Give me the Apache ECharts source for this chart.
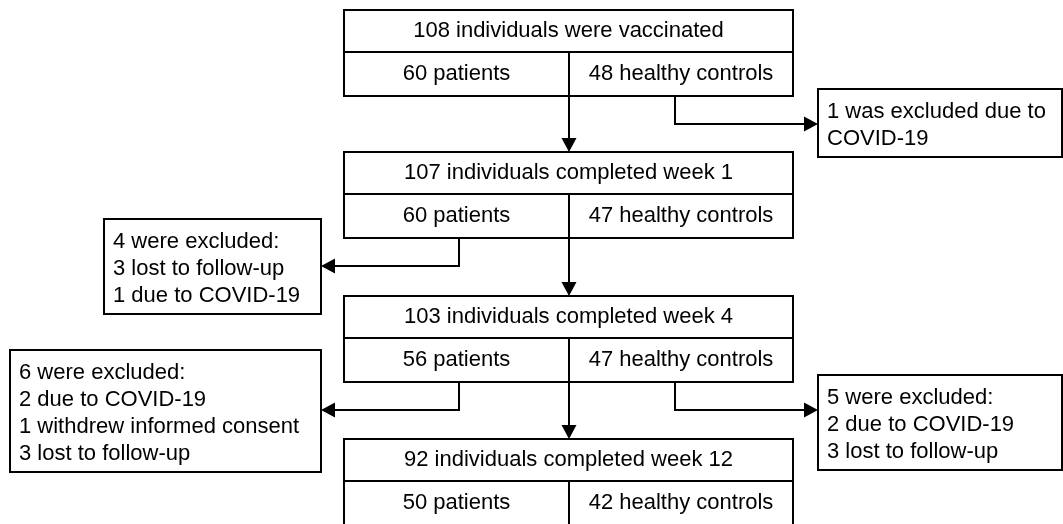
<!DOCTYPE html>
<html>
<head>
<meta charset="utf-8">
<script src="https://cdn.jsdelivr.net/npm/echarts@6/dist/echarts.min.js"></script>
<style>
  html, body { margin: 0; padding: 0; background: #fff; }
  #chart { width: 1063px; height: 524px; }
</style>
</head>
<body>
<div id="chart"></div>
<script>
// --- data ---
var stageTitles = [
  '108 individuals were vaccinated',
  '107 individuals completed week 1',
  '103 individuals completed week 4',
  '92 individuals completed week 12'
];
var patientCounts = [60, 60, 56, 50];
var controlCounts = [48, 47, 47, 42];

// exclusions: after which stage, from which group, text lines
var exclStage = [0, 1, 2, 2];
var exclGroup = ['controls', 'patients', 'patients', 'controls'];
var exclLines = [
  ['1 was excluded due to', 'COVID-19'],
  ['4 were excluded:', '3 lost to follow-up', '1 due to COVID-19'],
  ['6 were excluded:', '2 due to COVID-19', '1 withdrew informed consent', '3 lost to follow-up'],
  ['5 were excluded:', '2 due to COVID-19', '3 lost to follow-up']
];

// --- layout (canvas pixels) ---
var mainX = [344, 569, 793];          // left, split, right of the stage boxes
var stageTop = [10, 152, 296, 439];
var headH = 42, rowH = 44;
var branchX = { patients: 459, controls: 675 };
var branchDrop = 28;
var sideLeft = [818, 104, 10, 818];
var sideRight = [1062, 321, 321, 1062];
var sideTop = [89, 219, 350, 375];
var firstLine = 23, lineGap = 27, bottomPad = 18, padX = 9;
var arrowLen = 14, arrowHalf = 7.5;

var font = { fontSize: 22, fontFamily: '"Liberation Sans", Arial, sans-serif', fill: '#000' };
var stroke = { stroke: '#000', lineWidth: 2, fill: null };

function stageBottom(i) { return stageTop[i] + headH + rowH; }
function sideBottom(k) { return sideTop[k] + firstLine + lineGap * (exclLines[k].length - 1) + bottomPad; }

function txt(p, s, align) {
  return {
    type: 'text', x: p[0], y: p[1],
    style: Object.assign({ text: s, align: align, verticalAlign: 'middle' }, font)
  };
}
function seg(a, b) {
  return { type: 'line', shape: { x1: a[0], y1: a[1], x2: b[0], y2: b[1] }, style: stroke };
}

// connectors: main down arrows + exclusion elbows
var connectors = [];
for (var i = 0; i < stageTitles.length - 1; i++) {
  connectors.push([[mainX[1], stageBottom(i)], [mainX[1], stageTop[i + 1]]]);
}
for (var k = 0; k < exclLines.length; k++) {
  var bx = branchX[exclGroup[k]];
  var by = stageBottom(exclStage[k]) + branchDrop;
  var ex = exclGroup[k] === 'controls' ? sideLeft[k] : sideRight[k];
  connectors.push([[bx, stageBottom(exclStage[k])], [bx, by], [ex, by]]);
}

function renderStage(params, api) {
  var i = api.value(0);
  var t = stageTop[i], m = t + headH, b = stageBottom(i);
  var tl = api.coord([mainX[0], t]);
  var br = api.coord([mainX[2], b]);
  var ml = api.coord([mainX[0], m]);
  var mr = api.coord([mainX[2], m]);
  var sm = api.coord([mainX[1], m]);
  var sb = api.coord([mainX[1], b]);
  return {
    type: 'group',
    children: [
      { type: 'rect', shape: { x: tl[0], y: tl[1], width: br[0] - tl[0], height: br[1] - tl[1] },
        style: { stroke: '#000', lineWidth: 2, fill: '#fff' } },
      seg(ml, mr),
      seg(sm, sb),
      txt(api.coord([(mainX[0] + mainX[2]) / 2, (t + m) / 2]), stageTitles[i], 'center'),
      txt(api.coord([(mainX[0] + mainX[1]) / 2, (m + b) / 2]), patientCounts[i] + ' patients', 'center'),
      txt(api.coord([(mainX[1] + mainX[2]) / 2, (m + b) / 2]), controlCounts[i] + ' healthy controls', 'center')
    ]
  };
}

function renderSide(params, api) {
  var k = api.value(0);
  var tl = api.coord([sideLeft[k], sideTop[k]]);
  var br = api.coord([sideRight[k], sideBottom(k)]);
  var children = [
    { type: 'rect', shape: { x: tl[0], y: tl[1], width: br[0] - tl[0], height: br[1] - tl[1] },
      style: { stroke: '#000', lineWidth: 2, fill: '#fff' } }
  ];
  exclLines[k].forEach(function (s, j) {
    children.push(txt(api.coord([sideLeft[k] + padX, sideTop[k] + firstLine + j * lineGap]), s, 'left'));
  });
  return { type: 'group', children: children };
}

function renderConnector(params, api) {
  var pts = connectors[api.value(0)].map(function (p) { return api.coord(p); });
  var end = pts[pts.length - 1], prev = pts[pts.length - 2];
  var dx = end[0] - prev[0], dy = end[1] - prev[1];
  var len = Math.sqrt(dx * dx + dy * dy);
  var ux = dx / len, uy = dy / len;
  var base = [end[0] - ux * arrowLen, end[1] - uy * arrowLen];
  var linePts = pts.slice(0, -1).concat([base]);
  return {
    type: 'group',
    children: [
      { type: 'polyline', shape: { points: linePts }, style: stroke },
      { type: 'polygon', shape: { points: [
          end,
          [base[0] - uy * arrowHalf, base[1] + ux * arrowHalf],
          [base[0] + uy * arrowHalf, base[1] - ux * arrowHalf]
        ] }, style: { fill: '#000' } }
    ]
  };
}

var chart = echarts.init(document.getElementById('chart'));
chart.setOption({
  animation: false,
  backgroundColor: '#fff',
  grid: { left: 0, right: 0, top: 0, bottom: 0 },
  xAxis: { type: 'value', min: 0, max: 1063, show: false },
  yAxis: { type: 'value', min: 0, max: 524, inverse: true, show: false },
  series: [
    { type: 'custom', renderItem: renderConnector, clip: false,
      data: connectors.map(function (c, n) { return [n]; }) },
    { type: 'custom', renderItem: renderStage, clip: false,
      data: stageTitles.map(function (s, n) { return [n]; }) },
    { type: 'custom', renderItem: renderSide, clip: false,
      data: exclLines.map(function (s, n) { return [n]; }) }
  ]
});
</script>
</body>
</html>
